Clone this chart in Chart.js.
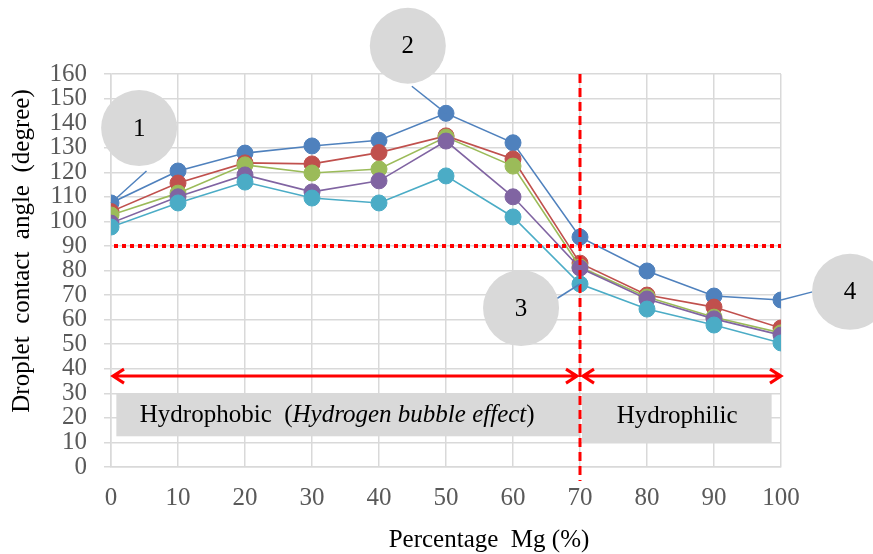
<!DOCTYPE html>
<html>
<head>
<meta charset="utf-8">
<script src="https://cdn.jsdelivr.net/npm/chart.js@4/dist/chart.umd.min.js"></script>
<style>
  html, body { margin: 0; padding: 0; background: #fff; }
  #wrap { width: 873px; height: 554px; }
</style>
</head>
<body>
<div id="wrap"><canvas id="angleChart"></canvas></div>
<script>
// Percentage Mg on the x axis
const mgPercent = [0, 10, 20, 30, 40, 50, 60, 70, 80, 90, 100];
const yTicks = [0, 10, 20, 30, 40, 50, 60, 70, 80, 90, 100, 110, 120, 130, 140, 150, 160];

// contact angle per series (degree)
const blueSeries   = [107.5, 120.5, 127.8, 130.7, 133.0, 144.0, 132.0, 93.6, 79.8, 69.6, 68.0];
const redSeries    = [104.0, 115.6, 123.8, 123.4, 128.0, 134.8, 125.4, 83.0, 70.0, 65.1, 56.6];
const greenSeries  = [102.6, 111.5, 123.0, 119.7, 121.3, 134.3, 122.5, 81.4, 69.2, 61.0, 54.6];
const purpleSeries = [99.3, 110.0, 118.9, 112.0, 116.5, 132.7, 110.0, 81.0, 68.4, 60.3, 53.7];
const cyanSeries   = [97.7, 107.5, 116.0, 109.5, 107.5, 118.5, 101.8, 74.5, 64.3, 57.8, 50.5];

const thresholdAngle = 90;   // hydrophobic / hydrophilic limit
const transitionMg = 70;

const serif = '"Liberation Serif", "Times New Roman", serif';

function makeSet(values, color, order) {
    return {
        data: mgPercent.map((m, i) => ({ x: m, y: values[i] })),
        borderColor: color,
        backgroundColor: color,
        pointBackgroundColor: color,
        pointBorderColor: color,
        pointRadius: 8,
        pointBorderWidth: 1,
        borderWidth: 1.6,
        order: order
    };
}

// red guides, grey boxes, numbered callouts
const overlay = {
    id: 'overlay',
    afterDatasetsDraw(chart) {
        const ctx = chart.ctx;
        const xs = chart.scales.x, ys = chart.scales.y;
        const X = v => xs.getPixelForValue(v);
        const Y = v => ys.getPixelForValue(v);
        ctx.save();

        // grey label boxes
        ctx.fillStyle = '#D9D9D9';
        ctx.fillRect(X(0.8), Y(30), X(70) - X(0.8), Y(12.5) - Y(30));
        ctx.fillRect(X(70.3), Y(30), X(98.6) - X(70.3), Y(9.8) - Y(30));

        // horizontal dotted line at 90 degree
        ctx.strokeStyle = '#FF0000';
        ctx.lineWidth = 4;
        ctx.setLineDash([4, 4]);
        ctx.beginPath();
        ctx.moveTo(X(0) + 3, Y(thresholdAngle));
        ctx.lineTo(X(100), Y(thresholdAngle));
        ctx.stroke();

        // vertical dashed line at 70 %
        ctx.lineWidth = 3;
        ctx.setLineDash([9, 5]);
        ctx.beginPath();
        ctx.moveTo(X(transitionMg), Y(160));
        ctx.lineTo(X(transitionMg), Y(0) + 14);
        ctx.stroke();
        ctx.setLineDash([]);

        // double arrows
        function arrow(a, b, yv) {
            const y = Y(yv);
            ctx.beginPath();
            ctx.moveTo(a, y); ctx.lineTo(b, y);
            ctx.moveTo(a + 11, y - 7); ctx.lineTo(a, y); ctx.lineTo(a + 11, y + 7);
            ctx.moveTo(b - 11, y - 7); ctx.lineTo(b, y); ctx.lineTo(b - 11, y + 7);
            ctx.stroke();
        }
        ctx.lineWidth = 3;
        ctx.lineJoin = 'miter';
        arrow(X(0) + 2, X(transitionMg) - 3, 37);
        arrow(X(transitionMg) + 3, X(100), 37);

        // box texts
        ctx.fillStyle = '#000';
        ctx.textBaseline = 'middle';
        ctx.textAlign = 'left';
        const ty = Y(21);
        let tx = X(4.3);
        const parts = [['Hydrophobic  (', ''], ['Hydrogen bubble effect', 'italic '], [')', '']];
        parts.forEach(p => {
            ctx.font = p[1] + '25px ' + serif;
            ctx.fillText(p[0], tx, ty);
            tx += ctx.measureText(p[0]).width;
        });
        ctx.font = '25px ' + serif;
        ctx.textAlign = 'center';
        ctx.fillText('Hydrophilic', X(84.5), Y(20.5));

        // numbered callouts: circle centre, leader start, target point
        const callouts = [
            { n: '1', cx: 4.2, cy: 138, fx: 5.3, fy: 120.5, tx: 0, ty: blueSeries[0] },
            { n: '2', cx: 44.3, cy: 171.5, fx: 44.9, fy: 155, tx: 50, ty: blueSeries[5] },
            { n: '3', cx: 61.2, cy: 64.7, fx: 66.5, fy: 68.5, tx: 70, ty: cyanSeries[7] },
            { n: '4', cx: 110.3, cy: 71.3, fx: 104.7, fy: 71.3, tx: 100, ty: blueSeries[10] }
        ];
        ctx.strokeStyle = '#4F81BD';
        ctx.lineWidth = 1.5;
        callouts.forEach(c => {
            ctx.beginPath();
            ctx.moveTo(X(c.tx), Y(c.ty));
            ctx.lineTo(X(c.fx), Y(c.fy));
            ctx.stroke();
        });
        callouts.forEach(c => {
            ctx.fillStyle = '#D9D9D9';
            ctx.beginPath();
            ctx.arc(X(c.cx), Y(c.cy), 38, 0, Math.PI * 2);
            ctx.fill();
            ctx.fillStyle = '#000';
            ctx.font = '25px ' + serif;
            ctx.textAlign = 'center';
            ctx.textBaseline = 'middle';
            ctx.fillText(c.n, X(c.cx), Y(c.cy) + 1);
        });

        // axis titles
        ctx.fillStyle = '#000';
        ctx.font = '25px ' + serif;
        ctx.fillText('Percentage  Mg (%)', (chart.chartArea.left + chart.chartArea.right) / 2 + 43, 540);
        ctx.translate(22, 251);
        ctx.rotate(-Math.PI / 2);
        ctx.fillText('Droplet  contact  angle  (degree)', 0, 0);

        ctx.restore();
    }
};

const ctx = document.getElementById('angleChart').getContext('2d');
const angleChart = new Chart(ctx, {
    type: 'line',
    data: {
        datasets: [
            makeSet(blueSeries, '#4F81BD', 5),
            makeSet(redSeries, '#C0504D', 4),
            makeSet(greenSeries, '#9BBB59', 3),
            makeSet(purpleSeries, '#8064A2', 2),
            makeSet(cyanSeries, '#4BACC6', 1)
        ]
    },
    options: {
        responsive: true,
        maintainAspectRatio: false,
        animation: false,
        layout: { padding: { top: 74, right: 92, left: 0, bottom: 0 } },
        plugins: {
            legend: { display: false },
            tooltip: { enabled: false }
        },
        scales: {
            x: {
                type: 'linear',
                min: 0,
                max: 100,
                afterFit: s => { s.height = 87; },
                afterBuildTicks: s => { s.ticks = mgPercent.map(v => ({ value: v })); },
                grid: { color: '#D9D9D9', lineWidth: 1.5, drawTicks: false },
                border: { color: '#D9D9D9', width: 1.5 },
                ticks: {
                    color: '#595959',
                    padding: 16,
                    maxRotation: 0,
                    autoSkip: false,
                    font: { family: serif, size: 25 }
                }
            },
            y: {
                min: 0,
                max: 160,
                afterFit: s => { s.width = 111; },
                afterBuildTicks: s => { s.ticks = yTicks.map(v => ({ value: v })); },
                grid: { color: '#D9D9D9', lineWidth: 1.5, tickLength: 7 },
                border: { color: '#D9D9D9', width: 1.5 },
                ticks: {
                    color: '#595959',
                    padding: 17,
                    autoSkip: false,
                    font: { family: serif, size: 25, lineHeight: 1 }
                }
            }
        }
    },
    plugins: [overlay]
});
</script>
</body>
</html>
